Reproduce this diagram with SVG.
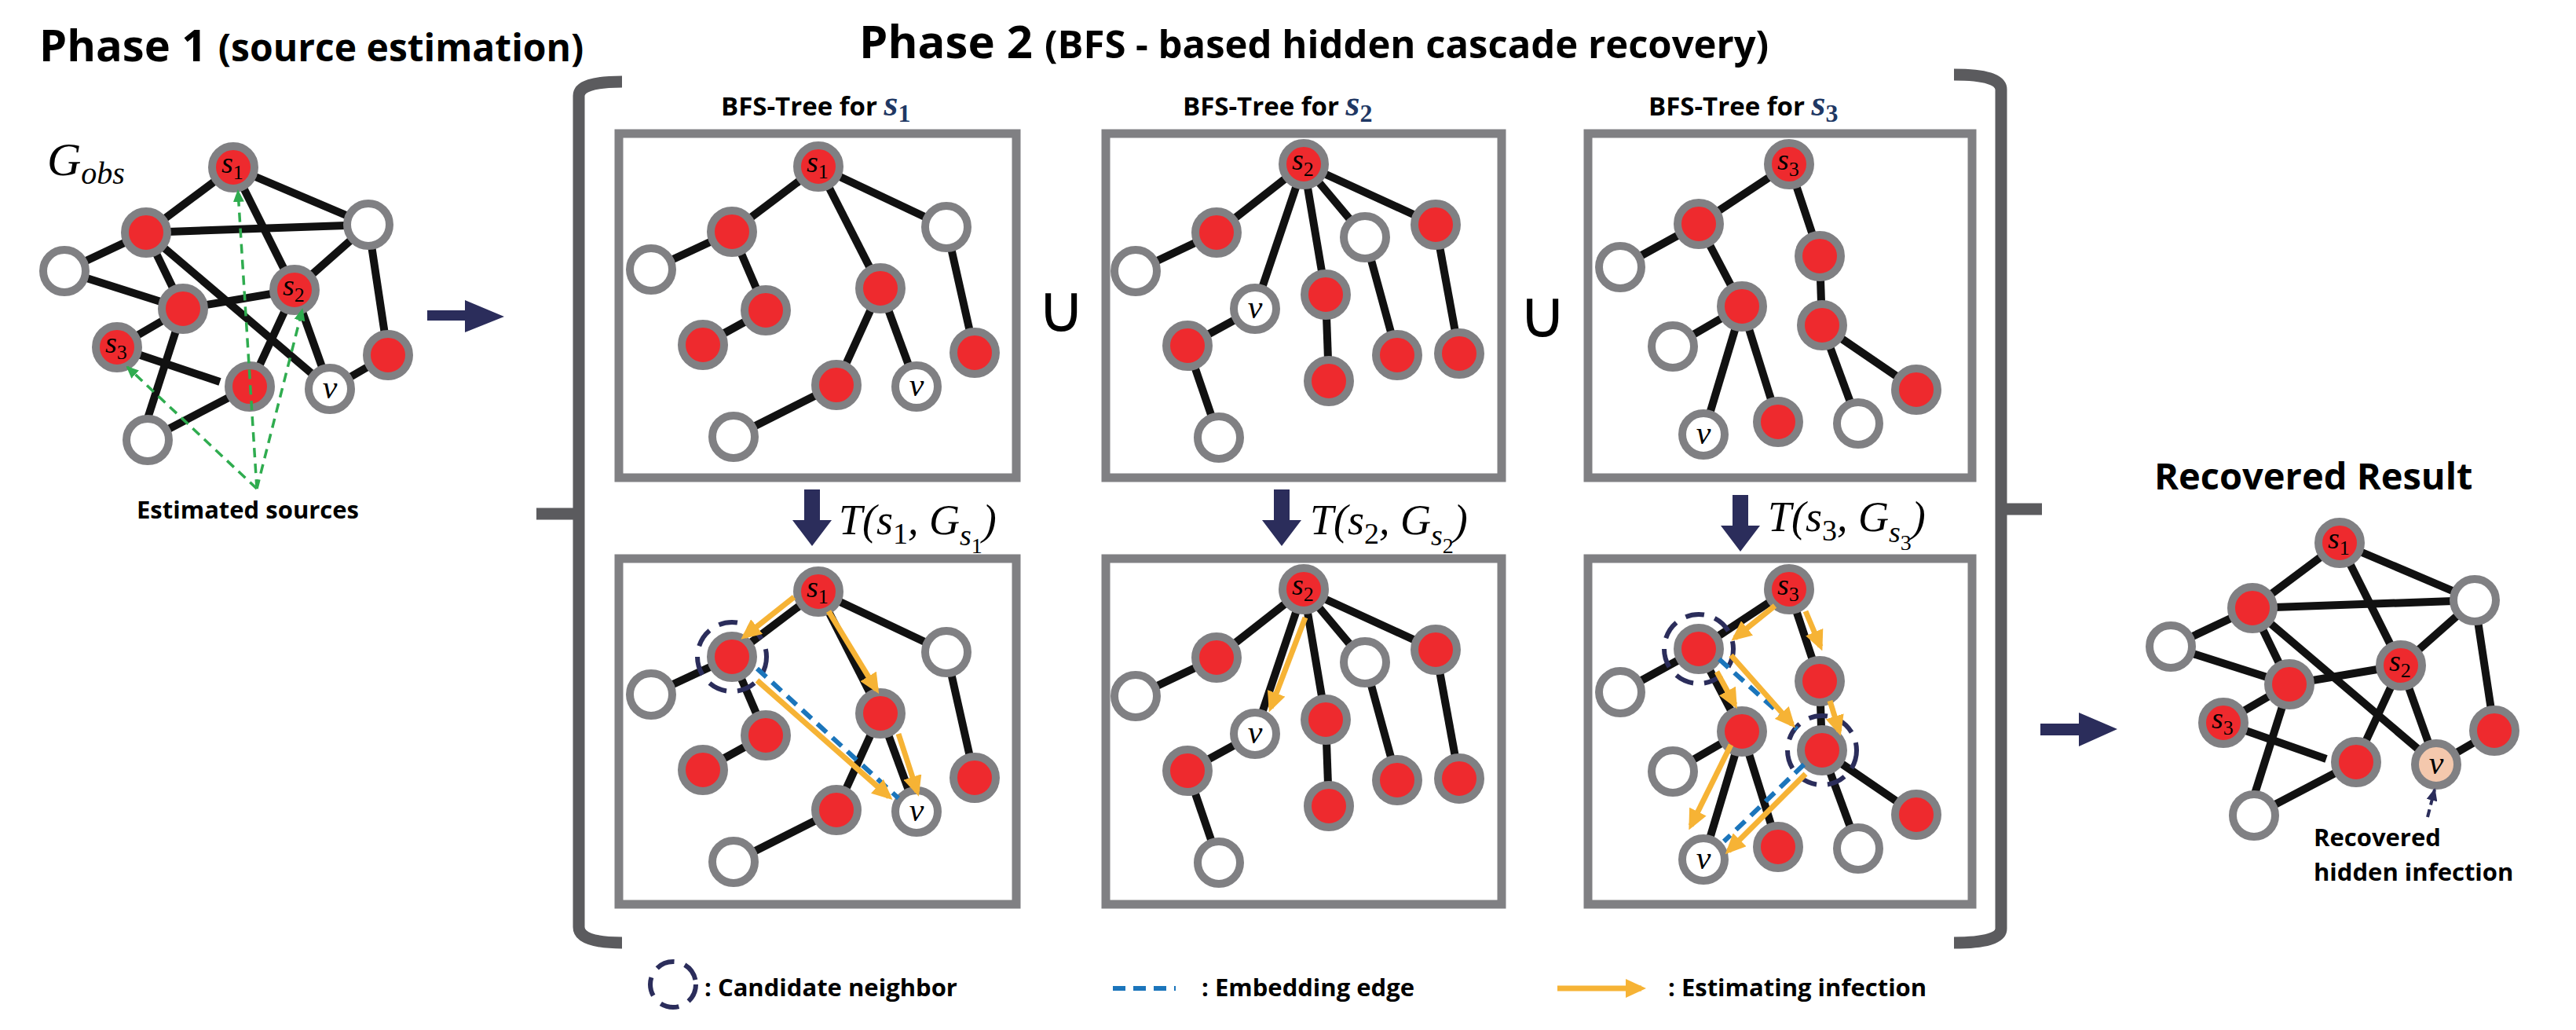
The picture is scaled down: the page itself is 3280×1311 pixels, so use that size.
<svg xmlns="http://www.w3.org/2000/svg" width="3280" height="1311" viewBox="0 0 3280 1311">
<style>
.r{fill:#ee2a2e;stroke:#808083;stroke-width:10}
.w{fill:#fff;stroke:#808083;stroke-width:10}
.pk{fill:#f4c8ad;stroke:#808083;stroke-width:10}
.e line{stroke:#111;stroke-width:10}
.box{fill:none;stroke:#808083;stroke-width:11}
.o{stroke:#f6b335;stroke-width:7;marker-end:url(#ah)}
.bd{stroke:#1b75bb;stroke-width:6;stroke-dasharray:16 10}
.cn{fill:none;stroke:#2b2d5b;stroke-width:6;stroke-dasharray:24 14}
.gd{stroke:#2fac4f;stroke-width:3.5;stroke-dasharray:12 8;marker-end:url(#ag)}
.lab{font-family:"Liberation Serif",serif;font-style:italic;font-size:38px;fill:#000}
.sub{font-size:26px;font-style:normal}
.vl{font-family:"Liberation Serif",serif;font-style:italic;font-size:42px;text-anchor:middle}
.h1{font-family:"Open Sans","Liberation Sans",sans-serif;font-weight:bold;fill:#000}
.bt{font-family:"Open Sans","Liberation Sans",sans-serif;font-weight:bold;font-size:33px}
.ts{font-family:"Liberation Serif",serif;font-style:italic;fill:#1f3864}
.tf{font-family:"Liberation Serif",serif;font-style:italic;font-size:54px}
.lg{font-family:"Open Sans","Liberation Sans",sans-serif;font-weight:bold;font-size:31px}
.br{fill:none;stroke:#5b5b5e;stroke-width:15}
.nv{fill:#2b2d5b}
.cup{font-family:"DejaVu Sans",sans-serif;font-size:84px;text-anchor:middle}
</style>
<defs>
<marker id="ah" markerUnits="userSpaceOnUse" markerWidth="26" markerHeight="24" viewBox="0 0 26 24" refX="20" refY="12" orient="auto"><path d="M0,0 L26,12 L0,24 z" fill="#f6b335"/></marker>
<marker id="ag" markerUnits="userSpaceOnUse" markerWidth="16" markerHeight="14" viewBox="0 0 16 14" refX="14" refY="7" orient="auto"><path d="M0,0 L16,7 L0,14 z" fill="#2fac4f"/></marker>
<marker id="an" markerUnits="userSpaceOnUse" markerWidth="16" markerHeight="14" viewBox="0 0 16 14" refX="14" refY="7" orient="auto"><path d="M0,0 L16,7 L0,14 z" fill="#2b2d5b"/></marker>
</defs>
<rect width="3280" height="1311" fill="#fff"/>

<!-- Titles -->
<text class="h1" x="50" y="78" style="font-size:56px">Phase 1 <tspan style="font-size:48px">(source estimation)</tspan></text>
<text class="h1" x="1094" y="74" style="font-size:58px">Phase 2 <tspan style="font-size:49px">(BFS - based hidden cascade recovery)</tspan></text>
<text class="h1" x="2743" y="623" style="font-size:47px">Recovered Result</text>
<text class="bt" x="918" y="147">BFS-Tree for <tspan class="ts" style="font-size:46px">s<tspan style="font-size:32px;font-style:normal" dy="8">1</tspan></tspan></text>
<text class="bt" x="1506" y="147">BFS-Tree for <tspan class="ts" style="font-size:46px">s<tspan style="font-size:32px;font-style:normal" dy="8">2</tspan></tspan></text>
<text class="bt" x="2099" y="147">BFS-Tree for <tspan class="ts" style="font-size:46px">s<tspan style="font-size:32px;font-style:normal" dy="8">3</tspan></tspan></text>
<text class="lab" x="60" y="223" style="font-size:60px">G<tspan style="font-size:40px" dy="11">obs</tspan></text>
<text class="h1" x="174" y="660" style="font-size:31px">Estimated sources</text>
<text class="h1" x="2946" y="1077" style="font-size:31px">Recovered</text>
<text class="h1" x="2946" y="1121" style="font-size:31px">hidden infection</text>
<text class="cup" x="1351" y="422">∪</text>
<text class="cup" x="1964" y="429">∪</text>

<!-- boxes & brackets -->
<rect class="box" x="788" y="170" width="506" height="438"/>
<rect class="box" x="788" y="711" width="506" height="440"/>
<rect class="box" x="1408" y="170" width="504" height="438"/>
<rect class="box" x="1408" y="711" width="504" height="440"/>
<rect class="box" x="2022" y="170" width="489" height="438"/>
<rect class="box" x="2022" y="711" width="489" height="440"/>
<path class="br" d="M792,104 Q737,104 737,122 L737,1180 Q737,1200 792,1200 M737,654 L683,654"/>
<path class="br" d="M2488,95 Q2548,95 2548,114 L2548,1182 Q2548,1200 2488,1200 M2548,648 L2600,648"/>

<!-- big arrows -->
<path class="nv" d="M544,395 H592 V382 L642,403 L592,423 V408 H544 z"/>
<path class="nv" d="M2598,921 H2647 V907 L2696,928 L2647,950 V936 H2598 z"/>
<path class="nv" d="M1024,623 H1044 V662 H1059 L1034,695 L1009,662 H1024 z"/>
<path class="nv" d="M1622,623 H1642 V662 H1657 L1632,695 L1607,662 H1622 z"/>
<path class="nv" d="M2206,630 H2226 V669 H2241 L2216,702 L2191,669 H2206 z"/>
<text class="tf" x="1068" y="680">T(s<tspan style="font-size:38px;font-style:normal" dy="12">1</tspan><tspan dy="-12">, G</tspan><tspan style="font-size:38px" dy="14">s</tspan><tspan style="font-size:28px;font-style:normal" dy="10">1</tspan><tspan dy="-24">)</tspan></text>
<text class="tf" x="1668" y="680">T(s<tspan style="font-size:38px;font-style:normal" dy="12">2</tspan><tspan dy="-12">, G</tspan><tspan style="font-size:38px" dy="14">s</tspan><tspan style="font-size:28px;font-style:normal" dy="10">2</tspan><tspan dy="-24">)</tspan></text>
<text class="tf" x="2251" y="676">T(s<tspan style="font-size:38px;font-style:normal" dy="12">3</tspan><tspan dy="-12">, G</tspan><tspan style="font-size:38px" dy="14">s</tspan><tspan style="font-size:28px;font-style:normal" dy="10">3</tspan><tspan dy="-24">)</tspan></text>

<!-- legend -->
<circle class="cn" cx="857" cy="1253" r="29"/>
<text class="lg" x="897" y="1268">: Candidate neighbor</text>
<line class="bd" x1="1417" y1="1258" x2="1497" y2="1258"/>
<text class="lg" x="1530" y="1268">: Embedding edge</text>
<line class="o" x1="1983" y1="1258" x2="2090" y2="1258"/>
<text class="lg" x="2124" y="1268">: Estimating infection</text>

<!-- connectors -->
<g id="connectors">
<g class="e">
<line x1="297" y1="213" x2="186" y2="296"/><line x1="297" y1="213" x2="469" y2="286"/><line x1="297" y1="213" x2="375" y2="369"/>
<line x1="186" y1="296" x2="469" y2="286"/><line x1="186" y1="296" x2="82" y2="345"/><line x1="186" y1="296" x2="233" y2="393"/>
<line x1="186" y1="296" x2="420" y2="495"/><line x1="82" y1="345" x2="233" y2="393"/><line x1="233" y1="393" x2="375" y2="369"/>
<line x1="233" y1="393" x2="149" y2="442"/><line x1="375" y1="369" x2="469" y2="286"/><line x1="375" y1="369" x2="318" y2="492"/>
<line x1="375" y1="369" x2="420" y2="495"/><line x1="469" y1="286" x2="494" y2="452"/><line x1="494" y1="452" x2="420" y2="495"/>
<line x1="149" y1="442" x2="280" y2="486"/><line x1="318" y1="492" x2="188" y2="560"/><line x1="233" y1="393" x2="183" y2="548"/>
<line x1="2979" y1="691" x2="2868" y2="774"/><line x1="2979" y1="691" x2="3151" y2="764"/><line x1="2979" y1="691" x2="3057" y2="847"/>
<line x1="2868" y1="774" x2="3151" y2="764"/><line x1="2868" y1="774" x2="2764" y2="823"/><line x1="2868" y1="774" x2="2915" y2="871"/>
<line x1="2868" y1="774" x2="3102" y2="973"/><line x1="2764" y1="823" x2="2915" y2="871"/><line x1="2915" y1="871" x2="3057" y2="847"/>
<line x1="2915" y1="871" x2="2831" y2="920"/><line x1="3057" y1="847" x2="3151" y2="764"/><line x1="3057" y1="847" x2="3000" y2="970"/>
<line x1="3057" y1="847" x2="3102" y2="973"/><line x1="3151" y1="764" x2="3176" y2="930"/><line x1="3176" y1="930" x2="3102" y2="973"/>
<line x1="2831" y1="920" x2="2962" y2="966"/><line x1="3000" y1="970" x2="2870" y2="1038"/><line x1="2915" y1="871" x2="2866" y2="1026"/>
<line x1="1042" y1="212" x2="932" y2="295"/><line x1="1042" y1="212" x2="1205" y2="289"/><line x1="1042" y1="212" x2="1121" y2="367"/>
<line x1="932" y1="295" x2="829" y2="343"/><line x1="932" y1="295" x2="975" y2="395"/><line x1="975" y1="395" x2="895" y2="439"/>
<line x1="1121" y1="367" x2="1065" y2="490"/><line x1="1121" y1="367" x2="1167" y2="492"/><line x1="1205" y1="289" x2="1241" y2="449"/>
<line x1="1065" y1="490" x2="934" y2="556"/>
<line x1="1042" y1="753" x2="932" y2="836"/><line x1="1042" y1="753" x2="1205" y2="830"/><line x1="1042" y1="753" x2="1121" y2="908"/>
<line x1="932" y1="836" x2="829" y2="884"/><line x1="932" y1="836" x2="975" y2="936"/><line x1="975" y1="936" x2="895" y2="980"/>
<line x1="1121" y1="908" x2="1065" y2="1031"/><line x1="1121" y1="908" x2="1167" y2="1033"/><line x1="1205" y1="830" x2="1241" y2="990"/>
<line x1="1065" y1="1031" x2="934" y2="1097"/>
<line x1="1660" y1="209" x2="1549" y2="296"/><line x1="1660" y1="209" x2="1598" y2="393"/><line x1="1660" y1="209" x2="1688" y2="375"/>
<line x1="1660" y1="209" x2="1738" y2="302"/><line x1="1660" y1="209" x2="1828" y2="286"/><line x1="1549" y1="296" x2="1446" y2="345"/>
<line x1="1598" y1="393" x2="1512" y2="440"/><line x1="1512" y1="440" x2="1552" y2="557"/><line x1="1688" y1="375" x2="1692" y2="485"/>
<line x1="1738" y1="302" x2="1779" y2="452"/><line x1="1828" y1="286" x2="1858" y2="450"/>
<line x1="1660" y1="750" x2="1549" y2="837"/><line x1="1660" y1="750" x2="1598" y2="934"/><line x1="1660" y1="750" x2="1688" y2="916"/>
<line x1="1660" y1="750" x2="1738" y2="843"/><line x1="1660" y1="750" x2="1828" y2="827"/><line x1="1549" y1="837" x2="1446" y2="886"/>
<line x1="1598" y1="934" x2="1512" y2="981"/><line x1="1512" y1="981" x2="1552" y2="1098"/><line x1="1688" y1="916" x2="1692" y2="1026"/>
<line x1="1738" y1="843" x2="1779" y2="993"/><line x1="1828" y1="827" x2="1858" y2="991"/>
<line x1="2278" y1="209" x2="2163" y2="285"/><line x1="2278" y1="209" x2="2317" y2="326"/><line x1="2163" y1="285" x2="2063" y2="340"/>
<line x1="2163" y1="285" x2="2218" y2="390"/><line x1="2317" y1="326" x2="2320" y2="414"/><line x1="2218" y1="390" x2="2130" y2="441"/>
<line x1="2218" y1="390" x2="2169" y2="553"/><line x1="2218" y1="390" x2="2264" y2="537"/><line x1="2320" y1="414" x2="2366" y2="539"/>
<line x1="2320" y1="414" x2="2440" y2="496"/>
<line x1="2278" y1="750" x2="2163" y2="826"/><line x1="2278" y1="750" x2="2317" y2="867"/><line x1="2163" y1="826" x2="2063" y2="881"/>
<line x1="2163" y1="826" x2="2218" y2="931"/><line x1="2317" y1="867" x2="2320" y2="955"/><line x1="2218" y1="931" x2="2130" y2="982"/>
<line x1="2218" y1="931" x2="2169" y2="1094"/><line x1="2218" y1="931" x2="2264" y2="1078"/><line x1="2320" y1="955" x2="2366" y2="1080"/>
<line x1="2320" y1="955" x2="2440" y2="1037"/>
</g>
</g>

<g id="gobs-s1"><circle class="r" cx="297" cy="213" r="27"/><text class="lab" x="282" y="220">s<tspan class="sub" dy="8">1</tspan></text></g>
<g id="gobs-a"><circle class="r" cx="186" cy="296" r="27"/></g>
<g id="gobs-b"><circle class="w" cx="469" cy="286" r="27"/></g>
<g id="gobs-c"><circle class="w" cx="82" cy="345" r="27"/></g>
<g id="gobs-d"><circle class="r" cx="233" cy="393" r="27"/></g>
<g id="gobs-s2"><circle class="r" cx="375" cy="369" r="27"/><text class="lab" x="360" y="376">s<tspan class="sub" dy="8">2</tspan></text></g>
<g id="gobs-s3"><circle class="r" cx="149" cy="442" r="27"/><text class="lab" x="134" y="449">s<tspan class="sub" dy="8">3</tspan></text></g>
<g id="gobs-e"><circle class="r" cx="318" cy="492" r="27"/></g>
<g id="gobs-v"><circle class="w" cx="420" cy="495" r="27"/><text class="vl" x="420" y="507">v</text></g>
<g id="gobs-f"><circle class="r" cx="494" cy="452" r="27"/></g>
<g id="gobs-g"><circle class="w" cx="188" cy="560" r="27"/></g>
<g id="green-arrows">
<line class="gd" x1="327" y1="622" x2="303" y2="243"/>
<line class="gd" x1="327" y1="622" x2="385" y2="394"/>
<line class="gd" x1="327" y1="622" x2="162" y2="467"/>
</g>

<g id="res-s1"><circle class="r" cx="2979" cy="691" r="27"/><text class="lab" x="2964" y="698">s<tspan class="sub" dy="8">1</tspan></text></g>
<g id="res-a"><circle class="r" cx="2868" cy="774" r="27"/></g>
<g id="res-b"><circle class="w" cx="3151" cy="764" r="27"/></g>
<g id="res-c"><circle class="w" cx="2764" cy="823" r="27"/></g>
<g id="res-d"><circle class="r" cx="2915" cy="871" r="27"/></g>
<g id="res-s2"><circle class="r" cx="3057" cy="847" r="27"/><text class="lab" x="3042" y="854">s<tspan class="sub" dy="8">2</tspan></text></g>
<g id="res-s3"><circle class="r" cx="2831" cy="920" r="27"/><text class="lab" x="2816" y="927">s<tspan class="sub" dy="8">3</tspan></text></g>
<g id="res-e"><circle class="r" cx="3000" cy="970" r="27"/></g>
<g id="res-v"><circle class="pk" cx="3102" cy="973" r="27"/><text class="vl" x="3102" y="985">v</text></g>
<g id="res-f"><circle class="r" cx="3176" cy="930" r="27"/></g>
<g id="res-g"><circle class="w" cx="2870" cy="1038" r="27"/></g>
<line x1="3091" y1="1040" x2="3100" y2="1005" stroke="#2b2d5b" stroke-width="4" stroke-dasharray="10 6" marker-end="url(#an)"/>

<g id="t1-s1"><circle class="r" cx="1042" cy="212" r="27"/><text class="lab" x="1027" y="219">s<tspan class="sub" dy="8">1</tspan></text></g>
<g id="t1-a"><circle class="r" cx="932" cy="295" r="27"/></g>
<g id="t1-b"><circle class="w" cx="1205" cy="289" r="27"/></g>
<g id="t1-c"><circle class="w" cx="829" cy="343" r="27"/></g>
<g id="t1-d"><circle class="r" cx="975" cy="395" r="27"/></g>
<g id="t1-e"><circle class="r" cx="895" cy="439" r="27"/></g>
<g id="t1-f"><circle class="r" cx="1121" cy="367" r="27"/></g>
<g id="t1-g"><circle class="r" cx="1241" cy="449" r="27"/></g>
<g id="t1-h"><circle class="r" cx="1065" cy="490" r="27"/></g>
<g id="t1-v"><circle class="w" cx="1167" cy="492" r="27"/><text class="vl" x="1167" y="504">v</text></g>
<g id="t1-i"><circle class="w" cx="934" cy="556" r="27"/></g>
<g id="b1-s1"><circle class="r" cx="1042" cy="753" r="27"/><text class="lab" x="1027" y="760">s<tspan class="sub" dy="8">1</tspan></text></g>
<g id="b1-a"><circle class="r" cx="932" cy="836" r="27"/></g>
<g id="b1-b"><circle class="w" cx="1205" cy="830" r="27"/></g>
<g id="b1-c"><circle class="w" cx="829" cy="884" r="27"/></g>
<g id="b1-d"><circle class="r" cx="975" cy="936" r="27"/></g>
<g id="b1-e"><circle class="r" cx="895" cy="980" r="27"/></g>
<g id="b1-f"><circle class="r" cx="1121" cy="908" r="27"/></g>
<g id="b1-g"><circle class="r" cx="1241" cy="990" r="27"/></g>
<g id="b1-h"><circle class="r" cx="1065" cy="1031" r="27"/></g>
<g id="b1-v"><circle class="w" cx="1167" cy="1033" r="27"/><text class="vl" x="1167" y="1045">v</text></g>
<g id="b1-i"><circle class="w" cx="934" cy="1097" r="27"/></g>
<g id="b1-overlay">
<circle class="cn" cx="932" cy="836" r="44"/>
<line class="bd" x1="964" y1="851" x2="1144" y2="1016"/>
<line class="o" x1="1011" y1="760" x2="948" y2="810"/>
<line class="o" x1="1055" y1="778" x2="1116" y2="878"/>
<line class="o" x1="1144" y1="934" x2="1168" y2="1008"/>
<line class="o" x1="964" y1="866" x2="1132" y2="1014"/>
</g>

<g id="t2-s2"><circle class="r" cx="1660" cy="209" r="27"/><text class="lab" x="1645" y="216">s<tspan class="sub" dy="8">2</tspan></text></g>
<g id="t2-a"><circle class="r" cx="1549" cy="296" r="27"/></g>
<g id="t2-c"><circle class="w" cx="1446" cy="345" r="27"/></g>
<g id="t2-v"><circle class="w" cx="1598" cy="393" r="27"/><text class="vl" x="1598" y="405">v</text></g>
<g id="t2-w"><circle class="w" cx="1738" cy="302" r="27"/></g>
<g id="t2-r"><circle class="r" cx="1828" cy="286" r="27"/></g>
<g id="t2-m"><circle class="r" cx="1688" cy="375" r="27"/></g>
<g id="t2-n"><circle class="r" cx="1692" cy="485" r="27"/></g>
<g id="t2-p"><circle class="r" cx="1779" cy="452" r="27"/></g>
<g id="t2-q"><circle class="r" cx="1858" cy="450" r="27"/></g>
<g id="t2-e"><circle class="r" cx="1512" cy="440" r="27"/></g>
<g id="t2-i"><circle class="w" cx="1552" cy="557" r="27"/></g>
<g id="b2-s2"><circle class="r" cx="1660" cy="750" r="27"/><text class="lab" x="1645" y="757">s<tspan class="sub" dy="8">2</tspan></text></g>
<g id="b2-a"><circle class="r" cx="1549" cy="837" r="27"/></g>
<g id="b2-c"><circle class="w" cx="1446" cy="886" r="27"/></g>
<g id="b2-v"><circle class="w" cx="1598" cy="934" r="27"/><text class="vl" x="1598" y="946">v</text></g>
<g id="b2-w"><circle class="w" cx="1738" cy="843" r="27"/></g>
<g id="b2-r"><circle class="r" cx="1828" cy="827" r="27"/></g>
<g id="b2-m"><circle class="r" cx="1688" cy="916" r="27"/></g>
<g id="b2-n"><circle class="r" cx="1692" cy="1026" r="27"/></g>
<g id="b2-p"><circle class="r" cx="1779" cy="993" r="27"/></g>
<g id="b2-q"><circle class="r" cx="1858" cy="991" r="27"/></g>
<g id="b2-e"><circle class="r" cx="1512" cy="981" r="27"/></g>
<g id="b2-i"><circle class="w" cx="1552" cy="1098" r="27"/></g>
<g id="b2-overlay"><line class="o" x1="1662" y1="786" x2="1618" y2="901"/></g>

<g id="t3-s3"><circle class="r" cx="2278" cy="209" r="27"/><text class="lab" x="2263" y="216">s<tspan class="sub" dy="8">3</tspan></text></g>
<g id="t3-a"><circle class="r" cx="2163" cy="285" r="27"/></g>
<g id="t3-c"><circle class="w" cx="2063" cy="340" r="27"/></g>
<g id="t3-b"><circle class="r" cx="2317" cy="326" r="27"/></g>
<g id="t3-d"><circle class="r" cx="2218" cy="390" r="27"/></g>
<g id="t3-e"><circle class="w" cx="2130" cy="441" r="27"/></g>
<g id="t3-f"><circle class="r" cx="2320" cy="414" r="27"/></g>
<g id="t3-v"><circle class="w" cx="2169" cy="553" r="27"/><text class="vl" x="2169" y="565">v</text></g>
<g id="t3-g"><circle class="r" cx="2264" cy="537" r="27"/></g>
<g id="t3-h"><circle class="w" cx="2366" cy="539" r="27"/></g>
<g id="t3-k"><circle class="r" cx="2440" cy="496" r="27"/></g>
<g id="b3-s3"><circle class="r" cx="2278" cy="750" r="27"/><text class="lab" x="2263" y="757">s<tspan class="sub" dy="8">3</tspan></text></g>
<g id="b3-a"><circle class="r" cx="2163" cy="826" r="27"/></g>
<g id="b3-c"><circle class="w" cx="2063" cy="881" r="27"/></g>
<g id="b3-b"><circle class="r" cx="2317" cy="867" r="27"/></g>
<g id="b3-d"><circle class="r" cx="2218" cy="931" r="27"/></g>
<g id="b3-e"><circle class="w" cx="2130" cy="982" r="27"/></g>
<g id="b3-f"><circle class="r" cx="2320" cy="955" r="27"/></g>
<g id="b3-v"><circle class="w" cx="2169" cy="1094" r="27"/><text class="vl" x="2169" y="1106">v</text></g>
<g id="b3-g"><circle class="r" cx="2264" cy="1078" r="27"/></g>
<g id="b3-h"><circle class="w" cx="2366" cy="1080" r="27"/></g>
<g id="b3-k"><circle class="r" cx="2440" cy="1037" r="27"/></g>
<g id="b3-overlay">
<circle class="cn" cx="2163" cy="826" r="44"/>
<circle class="cn" cx="2320" cy="955" r="44"/>
<line class="bd" x1="2189" y1="839" x2="2288" y2="928"/>
<line class="bd" x1="2297" y1="973" x2="2195" y2="1071"/>
<line class="o" x1="2260" y1="771" x2="2209" y2="812"/>
<line class="o" x1="2299" y1="778" x2="2318" y2="823"/>
<line class="o" x1="2186" y1="855" x2="2209" y2="897"/>
<line class="o" x1="2204" y1="834" x2="2282" y2="922"/>
<line class="o" x1="2330" y1="892" x2="2342" y2="931"/>
<line class="o" x1="2204" y1="948" x2="2153" y2="1051"/>
<line class="o" x1="2299" y1="985" x2="2201" y2="1083"/>
</g>
</svg>
